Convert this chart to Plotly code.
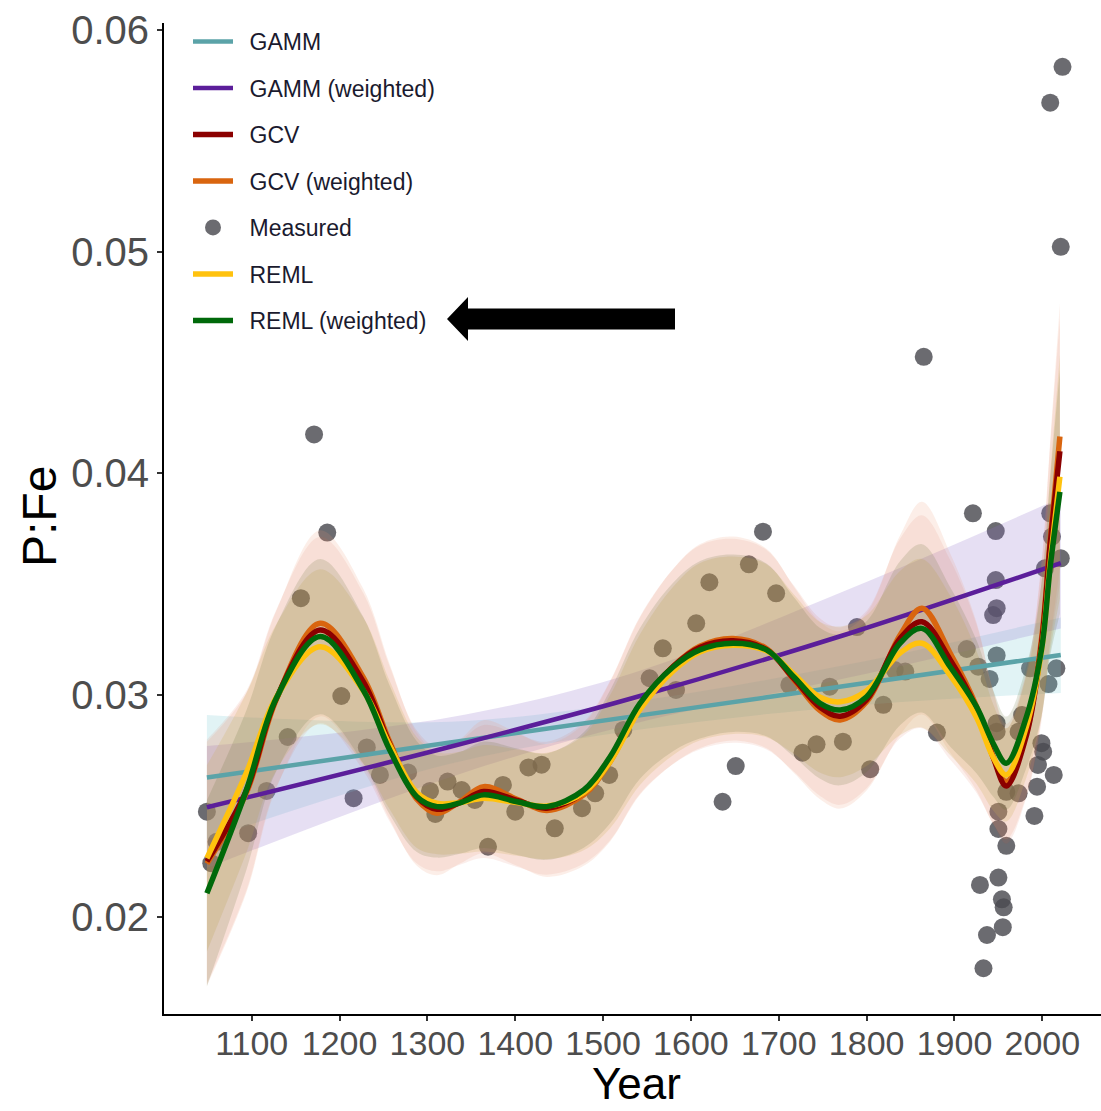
import plotly.graph_objects as go

# ---------------- data ----------------
meas_year = [1049, 1054, 1060, 1096, 1117, 1141, 1156, 1171, 1186, 1202, 1216, 1231, 1246, 1278,
             1303, 1309, 1323, 1339, 1354, 1369, 1386, 1400, 1415, 1430, 1445, 1476, 1491, 1507,
             1523, 1553, 1568, 1583, 1606, 1621, 1636, 1651, 1666, 1682, 1697, 1712, 1727, 1743,
             1758, 1773, 1789, 1804, 1819, 1832, 1844, 1865, 1880, 1914, 1921, 1927, 1929, 1933,
             1937, 1940, 1947, 1947, 1948, 1944, 1948, 1948, 1948, 1950, 1950, 1950, 1954, 1956,
             1955, 1959, 1959, 1973, 1973, 1977, 1986, 1991, 1994, 1995, 1999, 2001, 2003, 2007,
             2009, 2011, 2013, 2016, 2021, 2009, 2023, 2021]
meas_pfe = [0.02474, 0.02242, 0.02338, 0.02377, 0.02568, 0.02811, 0.03437, 0.04176, 0.03733, 0.02996,
            0.02535, 0.02764, 0.02640, 0.02651, 0.02568, 0.02464, 0.02610, 0.02572, 0.02527, 0.02316,
            0.02595, 0.02474, 0.02674, 0.02686, 0.02399, 0.02490, 0.02557, 0.02640, 0.02843, 0.03076,
            0.03211, 0.03023, 0.03324, 0.03509, 0.02519, 0.02680, 0.03590, 0.03737, 0.03459, 0.03046,
            0.02740, 0.02778, 0.03038, 0.02790, 0.03307, 0.02666, 0.02956, 0.03113, 0.03106, 0.04526,
            0.02831, 0.03208, 0.03820, 0.03128, 0.02144, 0.01768, 0.01918, 0.03073, 0.03740, 0.03519,
            0.03392, 0.03361, 0.03179, 0.02873, 0.02835, 0.02474, 0.02396, 0.02177, 0.02079, 0.02043,
            0.01953, 0.02320, 0.02564, 0.02557, 0.02835, 0.02910, 0.03121, 0.02455, 0.02587, 0.02685,
            0.02783, 0.02745, 0.03572, 0.03050, 0.03820, 0.03715, 0.02640, 0.03121, 0.03617, 0.05672,
            0.05834, 0.05022]

smooth_year = [1049, 1094, 1128, 1178, 1227, 1257, 1288, 1311, 1337, 1364, 1402, 1436, 1478, 1508,
               1542, 1580, 1610, 1648, 1686, 1717, 1747, 1770, 1800, 1838, 1863, 1895, 1925, 1944,
               1959, 1982, 1999, 2009, 2020]
reml_w = [0.02106, 0.02572, 0.02986, 0.03264, 0.03023, 0.02753, 0.02542, 0.02497, 0.02514, 0.02550,
          0.02519, 0.02497, 0.02572, 0.02722, 0.02963, 0.03128, 0.03204, 0.03234, 0.03204, 0.03083,
          0.02963, 0.02933, 0.02993, 0.03234, 0.03301, 0.03128, 0.02948, 0.02783, 0.02693, 0.02903,
          0.03204, 0.03579, 0.03917]
reml = [0.02264, 0.02650, 0.02990, 0.03218, 0.03020, 0.02775, 0.02560, 0.02512, 0.02515, 0.02535,
        0.02515, 0.02500, 0.02560, 0.02700, 0.02935, 0.03110, 0.03195, 0.03225, 0.03200, 0.03095,
        0.02990, 0.02970, 0.03020, 0.03190, 0.03234, 0.03090, 0.02900, 0.02720, 0.02640, 0.02860,
        0.03200, 0.03600, 0.03985]
gcv = [0.02250, 0.02570, 0.02985, 0.03294, 0.03060, 0.02780, 0.02540, 0.02485, 0.02515, 0.02565,
       0.02525, 0.02490, 0.02560, 0.02705, 0.02955, 0.03130, 0.03215, 0.03245, 0.03205, 0.03075,
       0.02945, 0.02905, 0.02980, 0.03255, 0.03331, 0.03160, 0.02940, 0.02720, 0.02590, 0.02820,
       0.03230, 0.03680, 0.04100]
gcv_w = [0.02240, 0.02560, 0.02980, 0.03324, 0.03080, 0.02790, 0.02530, 0.02467, 0.02520, 0.02587,
         0.02530, 0.02480, 0.02550, 0.02700, 0.02950, 0.03130, 0.03220, 0.03255, 0.03210, 0.03070,
         0.02930, 0.02888, 0.02970, 0.03270, 0.03392, 0.03190, 0.02950, 0.02720, 0.02610, 0.02830,
         0.03250, 0.03700, 0.04166]
# half-widths of the confidence bands
reml_half = [0.0042, 0.0036, 0.0033, 0.0035, 0.0033, 0.0029, 0.0025, 0.0023, 0.0023, 0.0024, 0.0024,
             0.0024, 0.0026, 0.0030, 0.0034, 0.0038, 0.0040, 0.0040, 0.0039, 0.0036, 0.0034, 0.0034,
             0.0034, 0.0037, 0.0038, 0.0036, 0.0030, 0.0024, 0.0021, 0.0023, 0.0030, 0.0040, 0.0055]
gcv_half = [0.0055, 0.0045, 0.0040, 0.0042, 0.0040, 0.0035, 0.0030, 0.0028, 0.0028, 0.0030, 0.0030,
            0.0030, 0.0032, 0.0036, 0.0040, 0.0044, 0.0046, 0.0046, 0.0045, 0.0042, 0.0040, 0.0040,
            0.0040, 0.0045, 0.0048, 0.0045, 0.0038, 0.0030, 0.0026, 0.0028, 0.0035, 0.0045, 0.0060]

gamm_year = [1049, 1326, 1534, 1781, 2021]
gamm = [0.02628, 0.02786, 0.02904, 0.03044, 0.03181]
gamm_lo = [0.02350, 0.02690, 0.02840, 0.02950, 0.03010]
gamm_hi = [0.02910, 0.02880, 0.02970, 0.03140, 0.03350]
gamm_w = [0.02494, 0.02767, 0.02987, 0.03279, 0.03595]
gamm_w_lo = [0.02220, 0.02630, 0.02870, 0.03080, 0.03300]
gamm_w_hi = [0.02770, 0.02900, 0.03100, 0.03480, 0.03890]

x_ticks = [1100, 1200, 1300, 1400, 1500, 1600, 1700, 1800, 1900, 2000]
y_ticks = [0.02, 0.03, 0.04, 0.05, 0.06]
y_ticktext = ["0.02", "0.03", "0.04", "0.05", "0.06"]

# ---------------- styling ----------------
COL = {
    "GAMM": "#5BA3A8",
    "GAMM (weighted)": "#5B1E9A",
    "GCV": "#8B0000",
    "GCV (weighted)": "#D9650F",
    "REML": "#FFC20E",
    "REML (weighted)": "#00690A",
}
FILL = {
    "GAMM": "rgba(120,200,210,0.22)",
    "GAMM (weighted)": "rgba(140,110,200,0.22)",
    "GCV": "rgba(215,90,60,0.10)",
    "GCV (weighted)": "rgba(235,150,110,0.16)",
    "REML": "rgba(205,175,85,0.22)",
    "REML (weighted)": "rgba(95,105,50,0.17)",
}
FONT = "Liberation Sans, Arial, sans-serif"
PAD = "\u2002"  # small gap between legend key and label

W, H = 1101, 1111
ML, MR, MT, MB = 164, 0, 23, 97

fig = go.Figure()

# measured points (drawn first, under bands and lines)
fig.add_trace(go.Scatter(
    x=meas_year, y=meas_pfe, mode="markers", name=PAD + "Measured",
    marker=dict(size=18, color="rgba(75,75,80,0.82)", line=dict(width=0)),
    legendgroup="Measured", legendrank=5,
))


def band(xs, lo, hi, fill):
    fig.add_trace(go.Scatter(x=xs, y=lo, mode="lines", line=dict(width=0, shape="spline"),
                             showlegend=False, hoverinfo="skip"))
    fig.add_trace(go.Scatter(x=xs, y=hi, mode="lines", line=dict(width=0, shape="spline"),
                             fill="tonexty", fillcolor=fill, showlegend=False, hoverinfo="skip"))


band(gamm_year, gamm_lo, gamm_hi, FILL["GAMM"])
band(gamm_year, gamm_w_lo, gamm_w_hi, FILL["GAMM (weighted)"])
for name, vals, half in [("GCV", gcv, gcv_half), ("GCV (weighted)", gcv_w, gcv_half),
                         ("REML", reml, reml_half), ("REML (weighted)", reml_w, reml_half)]:
    lo = [v - h for v, h in zip(vals, half)]
    hi = [v + h for v, h in zip(vals, half)]
    band(smooth_year, lo, hi, FILL[name])

ranks = {"GAMM": 1, "GAMM (weighted)": 2, "GCV": 3, "GCV (weighted)": 4,
         "REML": 6, "REML (weighted)": 7}
fig.add_trace(go.Scatter(x=gamm_year, y=gamm, mode="lines", name=PAD + "GAMM",
                         line=dict(color=COL["GAMM"], width=4.5, shape="spline"),
                         legendgroup="GAMM", legendrank=ranks["GAMM"]))
fig.add_trace(go.Scatter(x=gamm_year, y=gamm_w, mode="lines", name=PAD + "GAMM (weighted)",
                         line=dict(color=COL["GAMM (weighted)"], width=4.5, shape="spline"),
                         legendgroup="GAMMw", legendrank=ranks["GAMM (weighted)"]))
for name, vals in [("GCV (weighted)", gcv_w), ("GCV", gcv), ("REML", reml),
                   ("REML (weighted)", reml_w)]:
    fig.add_trace(go.Scatter(x=smooth_year, y=vals, mode="lines", name=PAD + name,
                             line=dict(color=COL[name], width=5.5, shape="spline", smoothing=1.0),
                             legendgroup=name, legendrank=ranks[name]))


# pixel -> paper coordinate helpers for annotations / shapes
def px(xp):
    return (xp - ML) / (W - ML - MR)


def py(yp):
    return (H - MB - yp) / (H - MT - MB)


# arrow pointing at the "REML (weighted)" legend entry
arrow = [(447, 319), (468, 297), (468, 308.5), (675, 308.5), (675, 329.5), (468, 329.5), (468, 341)]
path = "M " + " L ".join(f"{px(a):.5f},{py(b):.5f}" for a, b in arrow) + " Z"
fig.add_shape(type="path", path=path, xref="paper", yref="paper",
              fillcolor="black", line=dict(color="black", width=0), layer="above")

# axis titles
fig.add_annotation(text="Year", x=px(636), y=py(1110), xref="paper", yref="paper",
                   xanchor="center", yanchor="bottom", showarrow=False,
                   font=dict(size=44, color="black", family=FONT))
fig.add_annotation(text="P:Fe", x=px(39), y=py(517), xref="paper", yref="paper",
                   xanchor="center", yanchor="middle", showarrow=False, textangle=-90,
                   font=dict(size=48, color="black", family=FONT))

fig.update_layout(
    width=W, height=H,
    margin=dict(l=ML, r=MR, t=MT, b=MB, autoexpand=False),
    paper_bgcolor="white", plot_bgcolor="white",
    font=dict(family=FONT, color="#1a1a1a"),
    showlegend=True,
    legend=dict(
        x=188 / W, y=1 - 20 / H, xref="container", yref="container",
        xanchor="left", yanchor="top",
        font=dict(size=23, color="#1a1a2e", family=FONT),
        bgcolor="rgba(0,0,0,0)", traceorder="grouped", tracegroupgap=13.6,
        itemwidth=40,
    ),
    xaxis=dict(
        range=[1000.17, 2066.8], tickmode="array", tickvals=x_ticks,
        ticks="outside", ticklen=5, tickwidth=2, tickcolor="#333333",
        showline=True, linecolor="black", linewidth=2, showgrid=False, zeroline=False,
        tickfont=dict(size=34, color="#4d4d4d", family=FONT),
        ticklabelstandoff=-7,
        automargin=False,
    ),
    yaxis=dict(
        range=[0.015616, 0.060316], tickmode="array", tickvals=y_ticks, ticktext=y_ticktext,
        ticks="outside", ticklen=5, tickwidth=2, tickcolor="#333333",
        showline=True, linecolor="black", linewidth=2, showgrid=False, zeroline=False,
        tickfont=dict(size=40, color="#4d4d4d", family=FONT),
        automargin=False,
    ),
)

fig.write_html("out.html")
